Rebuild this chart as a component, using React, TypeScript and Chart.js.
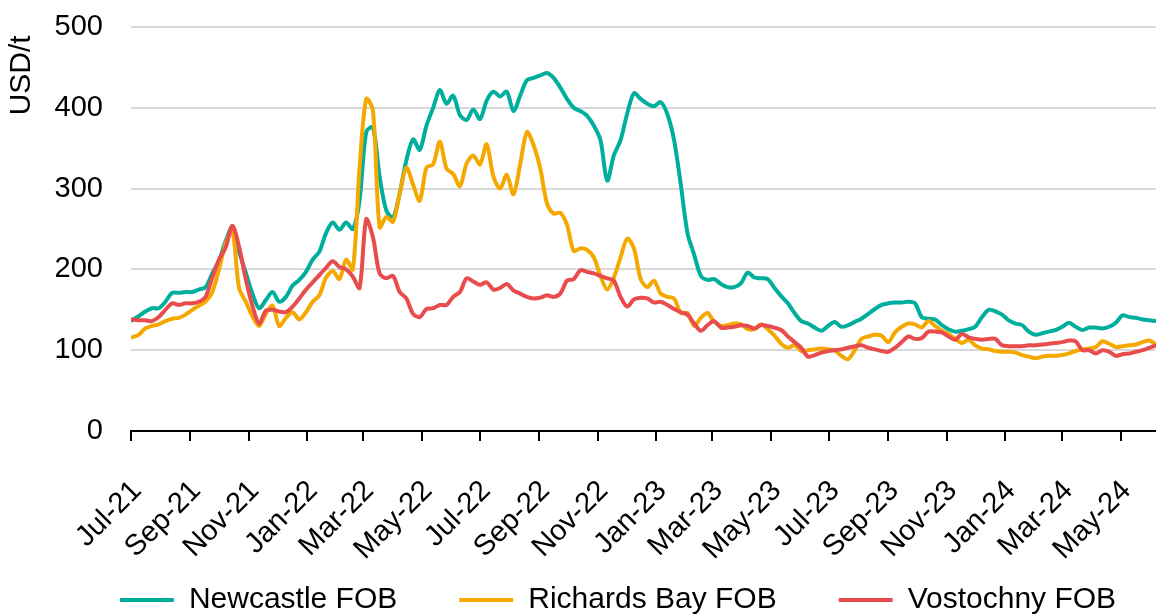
import React, { useEffect, useRef } from 'react';
import { Chart, registerables } from 'chart.js';

Chart.register(...registerables);

// ---- data ----
const START_DATE = '2021-07-01';
const END_DATE = '2024-06-07';
const FIRST_WEEK = '2021-07-02';

const TICK_DATES = [
  '2021-07-01', '2021-09-01', '2021-11-01', '2022-01-01', '2022-03-01', '2022-05-01',
  '2022-07-01', '2022-09-01', '2022-11-01', '2023-01-01', '2023-03-01', '2023-05-01',
  '2023-07-01', '2023-09-01', '2023-11-01', '2024-01-01', '2024-03-01', '2024-05-01',
];
const TICK_LABELS = [
  'Jul-21', 'Sep-21', 'Nov-21', 'Jan-22', 'Mar-22', 'May-22',
  'Jul-22', 'Sep-22', 'Nov-22', 'Jan-23', 'Mar-23', 'May-23',
  'Jul-23', 'Sep-23', 'Nov-23', 'Jan-24', 'Mar-24', 'May-24',
];
const Y_TICKS = [0, 100, 200, 300, 400, 500];

const SERIES_NAMES = ['Newcastle FOB', 'Richards Bay FOB', 'Vostochny FOB'];
const SERIES_COLORS = ['#00AE9E', '#F5A800', '#E84C4C'];

const NEWCASTLE = [
  137, 142, 148, 152, 152, 160, 171, 171, 172, 172,
  175, 178, 195, 211, 235, 252, 222, 196, 170, 152,
  162, 172, 160, 166, 180, 187, 197, 212, 222, 245,
  258, 249, 258, 250, 285, 370, 376, 315, 273, 264,
  294, 335, 361, 348, 378, 400, 422, 405, 415, 391,
  385, 398, 386, 409, 420, 414, 420, 396, 415, 434,
  437, 440, 443, 437, 425, 411, 400, 396, 390, 378,
  360, 310, 341, 360, 393, 418, 411, 405, 402, 407,
  392, 360, 305, 245, 218, 192, 187, 188, 182, 178,
  178, 183, 196, 190, 189, 188, 177, 167, 158, 146,
  136, 133, 128, 124, 130, 135, 129, 131, 135, 139,
  145, 151, 156, 158, 159, 159, 160, 158, 141, 139,
  138, 131, 126, 123, 124, 126, 129, 141, 150, 148,
  144, 137, 133, 131, 123, 119, 121, 123, 125, 129,
  134, 129, 125, 128, 128, 127, 129, 134, 143, 141,
  140, 138, 137, 136,
];

const RICHARDS_BAY = [
  116, 119, 127, 130, 132, 136, 139, 140, 144, 150,
  155, 160, 172, 200, 232, 248, 177, 160, 142, 130,
  145, 155, 130, 140, 147, 138, 147, 160, 168, 190,
  198, 188, 212, 200, 325, 411, 397, 252, 265, 259,
  294, 326, 305, 285, 326, 330, 358, 325, 318, 303,
  331, 341, 330, 355, 315, 300, 317, 293, 330, 370,
  354, 325, 282, 269, 270, 255, 223, 226, 224, 215,
  192, 175, 190, 215, 238, 226, 188, 178, 186, 170,
  166, 164, 146, 146, 130, 140, 146, 135, 130, 131,
  133, 132, 126, 126, 132, 126, 118, 108, 103, 106,
  99, 100, 101, 102, 101, 100, 93, 89, 100, 114,
  117, 119, 118, 110, 122, 129, 133, 132, 128, 136,
  130, 124, 120, 114, 109, 113, 106, 102, 101, 99,
  98, 98, 97, 94, 92, 90, 92, 93, 93, 94,
  96, 99, 101, 102, 104, 111, 108, 104, 105, 106,
  107, 110, 112, 107,
];

const VOSTOCHNY = [
  138, 137, 137, 136, 141, 150, 158, 156, 158, 158,
  160, 166, 190, 212, 227, 254, 228, 188, 155, 133,
  149, 150, 148, 147, 154, 164, 175, 184, 193, 202,
  210, 203, 200, 191, 177, 262, 240, 195, 189, 192,
  172, 164, 145, 141, 151, 152, 156, 156, 166, 172,
  189, 185, 181, 184, 175, 177, 182, 174, 170, 166,
  164, 165, 168, 166, 170, 186, 188, 199, 197, 195,
  192, 189, 186, 166, 154, 163, 165, 164, 159, 160,
  156, 151, 147, 144, 133, 124, 131, 136, 128, 128,
  129, 131, 130, 127, 131, 130, 128, 125, 117, 110,
  103, 92, 94, 97, 99, 100, 101, 103, 105, 106,
  103, 101, 99, 98, 103, 110, 117, 114, 115, 123,
  123, 122, 117, 113, 120, 116, 114, 113, 114, 114,
  106, 105, 105, 105, 106, 106, 107, 108, 109, 110,
  112, 111, 100, 100, 96, 100, 98, 93, 95, 96,
  98, 100, 103, 106,
];

const dayOf = (d: string) => Math.round((Date.parse(d) - Date.parse(START_DATE)) / 86400000);

export default function App() {
  const ref = useRef<HTMLCanvasElement | null>(null);

  useEffect(() => {
    document.body.style.margin = '0';
    const canvas = ref.current;
    if (!canvas) return;
    const firstDay = dayOf(FIRST_WEEK);
    const toPoints = (arr: number[]) => arr.map((v, i) => ({ x: firstDay + 7 * i, y: v }));
    const seriesValues = [NEWCASTLE, RICHARDS_BAY, VOSTOCHNY];
    const tickDays = TICK_DATES.map(dayOf);
    const font = "'Liberation Sans', Arial, sans-serif";

    const layoutTweak = {
      id: 'layoutTweak',
      afterLayout(chart: any) {
        const l = chart.legend;
        if (l) {
          l.left += 40;
          l.right += 40;
          l.top += 10;
          l.bottom += 10;
        }
        const xs = chart.scales.x;
        if (xs) {
          xs.bottom = chart.height;
          xs.height = xs.bottom - xs.top;
        }
      },
    };

    const chart = new Chart(canvas, {
      type: 'line',
      data: {
        datasets: SERIES_NAMES.map((name, k) => ({
          label: name,
          data: toPoints(seriesValues[k]),
          borderColor: SERIES_COLORS[k],
          backgroundColor: SERIES_COLORS[k],
          borderWidth: 4,
          pointRadius: 0,
          tension: 0.3,
          borderCapStyle: 'round',
          borderJoinStyle: 'round',
          order: 3 - k,
        })),
      },
      options: {
        responsive: false,
        maintainAspectRatio: false,
        animation: false,
        layout: { padding: { top: 27, left: 0, right: 0, bottom: 0 } },
        font: { family: font },
        scales: {
          x: {
            type: 'linear',
            min: 0,
            max: dayOf(END_DATE),
            afterBuildTicks: (s: any) => {
              s.ticks = tickDays.map((v) => ({ value: v }));
            },
            afterFit: (s: any) => {
              s.height = 82;
              s.paddingLeft = 0;
              s.paddingRight = 0;
            },
            ticks: {
              autoSkip: false,
              minRotation: 45,
              maxRotation: 45,
              padding: 33,
              labelOffset: 6,
              color: '#000',
              font: { family: font, size: 29 },
              callback: (_v: any, i: number) => TICK_LABELS[i] ?? '',
            },
            grid: {
              drawOnChartArea: false,
              drawTicks: true,
              tickLength: 10,
              color: '#000',
              lineWidth: 2,
            },
            border: { display: true, color: '#000', width: 2 },
          },
          y: {
            min: 0,
            max: 500,
            afterBuildTicks: (s: any) => {
              s.ticks = Y_TICKS.map((v) => ({ value: v }));
            },
            afterFit: (s: any) => {
              s.width = 131;
              s.paddingTop = 0;
              s.paddingBottom = 0;
            },
            ticks: {
              padding: 28,
              color: '#000',
              font: { family: font, size: 29 },
            },
            grid: { color: '#d9d9d9', lineWidth: 2, drawTicks: false },
            border: { display: false },
            title: {
              display: true,
              text: 'USD/t ',
              align: 'end',
              color: '#000',
              font: { family: font, size: 30 },
              padding: { top: 4, bottom: 0 },
            },
          },
        },
        plugins: {
          tooltip: { enabled: false },
          legend: {
            position: 'bottom',
            labels: {
              boxWidth: 54,
              boxHeight: 4,
              padding: 62,
              color: '#000',
              font: { family: font, size: 30 },
              sort: (a: any, b: any) => a.datasetIndex - b.datasetIndex,
              generateLabels: (c: any) =>
                (Chart as any).defaults.plugins.legend.labels
                  .generateLabels(c)
                  .map((l: any) => ({ ...l, lineWidth: 0, fillStyle: SERIES_COLORS[l.datasetIndex] })),
            },
          },
        },
      },
      plugins: [layoutTweak],
    } as any);

    return () => chart.destroy();
  }, []);

  return <canvas ref={ref} width={1156} height={615} style={{ display: 'block' }} />;
}
